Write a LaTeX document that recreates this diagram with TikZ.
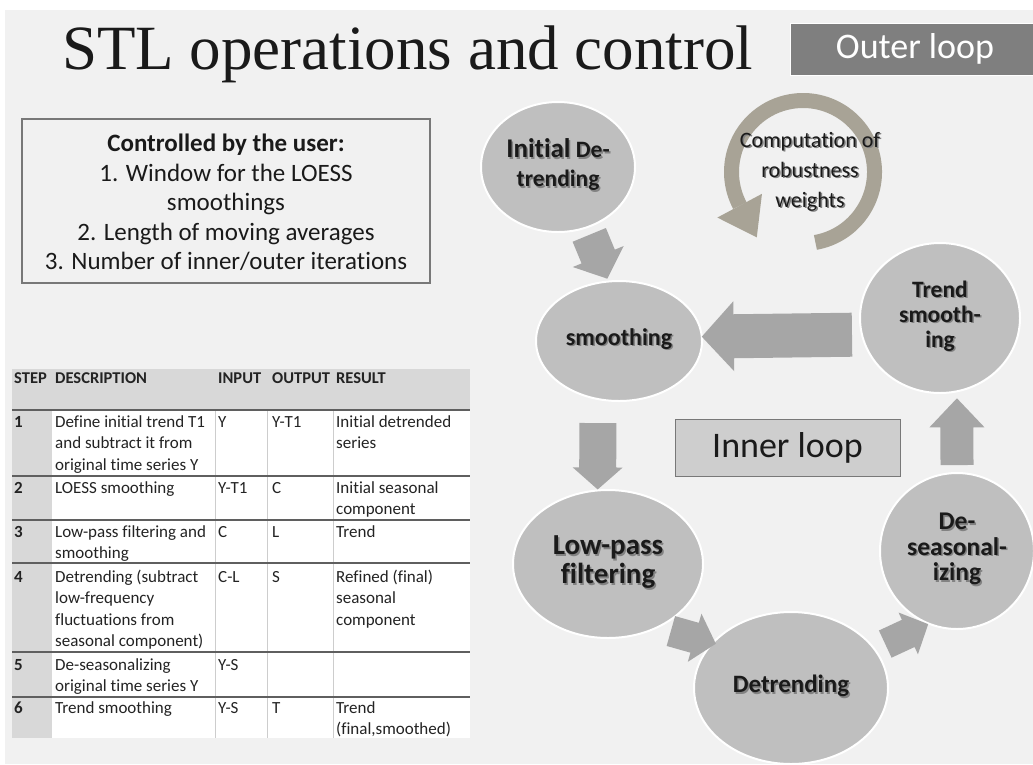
\documentclass[tikz,border=0pt]{standalone}
\usepackage{fontspec}
\setmainfont{Liberation Serif}
\newfontfamily\slidefont[Ligatures=NoCommon]{Carlito}
\usetikzlibrary{shapes.geometric,calc}

\definecolor{slidebg}{RGB}{241,241,241}
\definecolor{ink}{RGB}{26,26,26}
\definecolor{inkshade}{RGB}{130,130,130}
\definecolor{circfill}{RGB}{191,191,191}
\definecolor{arrowgray}{RGB}{166,166,166}
\definecolor{arcgray}{RGB}{168,163,150}
\definecolor{outerfill}{RGB}{127,127,127}
\definecolor{innerfill}{RGB}{206,206,206}
\definecolor{boxedge}{RGB}{120,120,120}
\definecolor{hdrgray}{RGB}{216,216,216}
\definecolor{rulegray}{RGB}{95,95,95}
\definecolor{colrule}{RGB}{205,205,205}
\definecolor{tabtext}{RGB}{35,35,35}

\newcommand\fs[2]{\fontsize{#1}{#2}\selectfont}
\newcommand\cell[1]{\begin{tabular}[t]{@{}l@{}}#1\end{tabular}}
\newcommand\shadowtext[1]{\makebox[0pt][l]{\hspace{1.5pt}\raisebox{-1.5pt}{\color{inkshade}\begin{tabular}{@{}c@{}}#1\end{tabular}}}\begin{tabular}{@{}c@{}}#1\end{tabular}}
% block arrow between two anchors: from, to, cut at start, cut at end,
% half body width, half head width, head length
\newcommand\blockarrow[7]{%
  \coordinate (ba-a) at ($(#1)!#3!(#2)$);
  \coordinate (ba-b) at ($(#2)!#4!(#1)$);
  \coordinate (ba-c) at ($(ba-b)!#7!(ba-a)$);
  \fill[arrowgray] ($(ba-a)!#5!90:(ba-b)$) -- ($(ba-c)!#5!90:(ba-b)$) -- ($(ba-c)!#6!90:(ba-b)$)
    -- (ba-b) -- ($(ba-c)!#6!-90:(ba-b)$) -- ($(ba-c)!#5!-90:(ba-b)$) -- ($(ba-a)!#5!-90:(ba-b)$) -- cycle;
}

\tikzset{
  circ/.style={ellipse, fill=circfill, draw=white, line width=2pt, inner sep=0pt, outer sep=0pt, text=ink},
  cellt/.style={anchor=base west, inner sep=0pt, text=tabtext, font=\slidefont\fs{17}{21.5}},
}

\begin{document}
\begin{tikzpicture}[x=1pt,y=-1pt]
\useasboundingbox (0,0) rectangle (1033,764);
\fill[white] (0,0) rectangle (1033,764);
\fill[slidebg] (5,10) rectangle (1033,764);

% title and loop labels
\node[anchor=base west, inner sep=0pt, text=ink, font=\fs{63}{70}] (title) at (62,69) {STL operations and control};
\node[fill=outerfill, draw=white, line width=1pt, minimum width=250pt, minimum height=52pt, text=white, font=\slidefont\fs{36}{40}] (outer) at (915,49) {Outer loop};
\node[fill=innerfill, draw=boxedge, minimum width=225pt, minimum height=57pt, text=ink, font=\slidefont\fs{36}{40}] (inner) at (787.5,447.5) {Inner loop};

% parameters set by the user
\node[draw=boxedge, line width=1.5pt, minimum width=408pt, minimum height=164pt, text=ink, font=\slidefont\fs{25}{29.5}] (user) at (226,201)
  {\raisebox{-4pt}[\height][\depth]{\begin{tabular}{@{}c@{}}\textbf{Controlled by the user:}\\1. Window for the LOESS\\smoothings\\2. Length of moving averages\\3. Number of inner/outer iterations\end{tabular}}};

% table of steps
\fill[hdrgray] (12,369) rectangle (470,410);
\fill[white] (52,410) rectangle (470,738);
\fill[hdrgray] (12,410) rectangle (52,738);
\foreach \x in {215,267,333} \draw[colrule, line width=0.8pt] (\x,410) -- (\x,738);
\foreach \y in {410,476,520,563,652,697} \draw[rulegray, line width=1.8pt] (12,\y) -- (470,\y);
\foreach \x/\h [count=\k] in {14/STEP,55/DESCRIPTION,218/INPUT,272/OUTPUT,336/RESULT}
  \node[cellt, font=\slidefont\bfseries\fs{16.5}{21.5}] (h\k) at (\x,383) {\h};
\foreach \y/\num/\desc/\inp/\outp/\res [count=\k] in {
  427/1/{Define initial trend T1\\and subtract it from\\original time series Y}/Y/Y-T1/{Initial detrended\\series},
  493/2/{LOESS smoothing}/Y-T1/C/{Initial seasonal\\component},
  537/3/{Low-pass filtering and\\smoothing}/C/L/{Trend},
  582/4/{Detrending (subtract\\low-frequency\\fluctuations from\\seasonal component)}/C-L/S/{Refined (final)\\seasonal\\component},
  670/5/{De-seasonalizing\\original time series Y}/Y-S/{}/{},
  713/6/{Trend smoothing}/Y-S/T/{Trend\\(final,smoothed)}}{
  \node[cellt, font=\slidefont\bfseries\fs{17}{21.5}] (n\k) at (14,\y) {\num};
  \node[cellt] (d\k) at (55,\y) {\cell{\desc}};
  \node[cellt] (i\k) at (218,\y) {\inp};
  \node[cellt] (o\k) at (272,\y) {\outp};
  \node[cellt] (r\k) at (336,\y) {\cell{\res}};
}

% outer loop: robustness weights
\coordinate (rc) at (803,172);
\draw[arcgray, line width=15pt] ([shift={(80:71.5)}]rc) arc (80:-208:71.5);
\fill[arcgray] ($(rc)+(-208:46.5)$) -- ($(rc)+(-208:97)$) -- ($(rc)+(-208:71.5)+(62:36)$) -- cycle;
\node[text=ink, font=\slidefont\fs{22}{30}] (cmp) at (810,172) {\shadowtext{Computation of\\robustness\\weights}};

% inner loop steps
\node[circ, minimum width=154pt, minimum height=130pt, font=\slidefont\bfseries\fs{23.5}{29}] (ini) at (558,167) {\shadowtext{{\fs{27}{29}Initial} De-\\trending}};
\node[circ, minimum width=166pt, minimum height=120pt, font=\slidefont\bfseries\fs{24}{26}] (smo) at (619,341) {\shadowtext{smoothing}};
\node[circ, minimum width=160pt, minimum height=150pt, font=\slidefont\bfseries\fs{23.5}{25}] (trd) at (940,318) {\shadowtext{Trend\\smooth-\\ing}};
\node[circ, minimum width=190pt, minimum height=148pt, font=\slidefont\bfseries\fs{29}{29}] (low) at (608,564) {\shadowtext{Low-pass\\filtering}};
\node[circ, minimum width=194pt, minimum height=152pt, font=\slidefont\bfseries\fs{25}{28}] (det) at (791,688) {\shadowtext{Detrending}};
\node[circ, minimum width=154pt, minimum height=156pt, font=\slidefont\bfseries\fs{25.5}{25}] (des) at (957,551) {\shadowtext{De-\\seasonal-\\izing}};

\blockarrow{ini.-65}{smo.100}{8pt}{3pt}{18pt}{27.5pt}{24pt}
\blockarrow{trd.192}{smo.3}{10pt}{0pt}{22pt}{35pt}{32pt}
\blockarrow{smo.-110}{low.98}{24pt}{1pt}{18.5pt}{25pt}{22pt}
\blockarrow{low.-52}{det.150}{14pt}{-3pt}{15.5pt}{25pt}{22pt}
\blockarrow{det.25}{des.-111}{12pt}{1pt}{15pt}{23pt}{22pt}
\blockarrow{des.north}{trd.-77}{8pt}{7pt}{16.5pt}{27.5pt}{29pt}
\end{tikzpicture}
\end{document}
